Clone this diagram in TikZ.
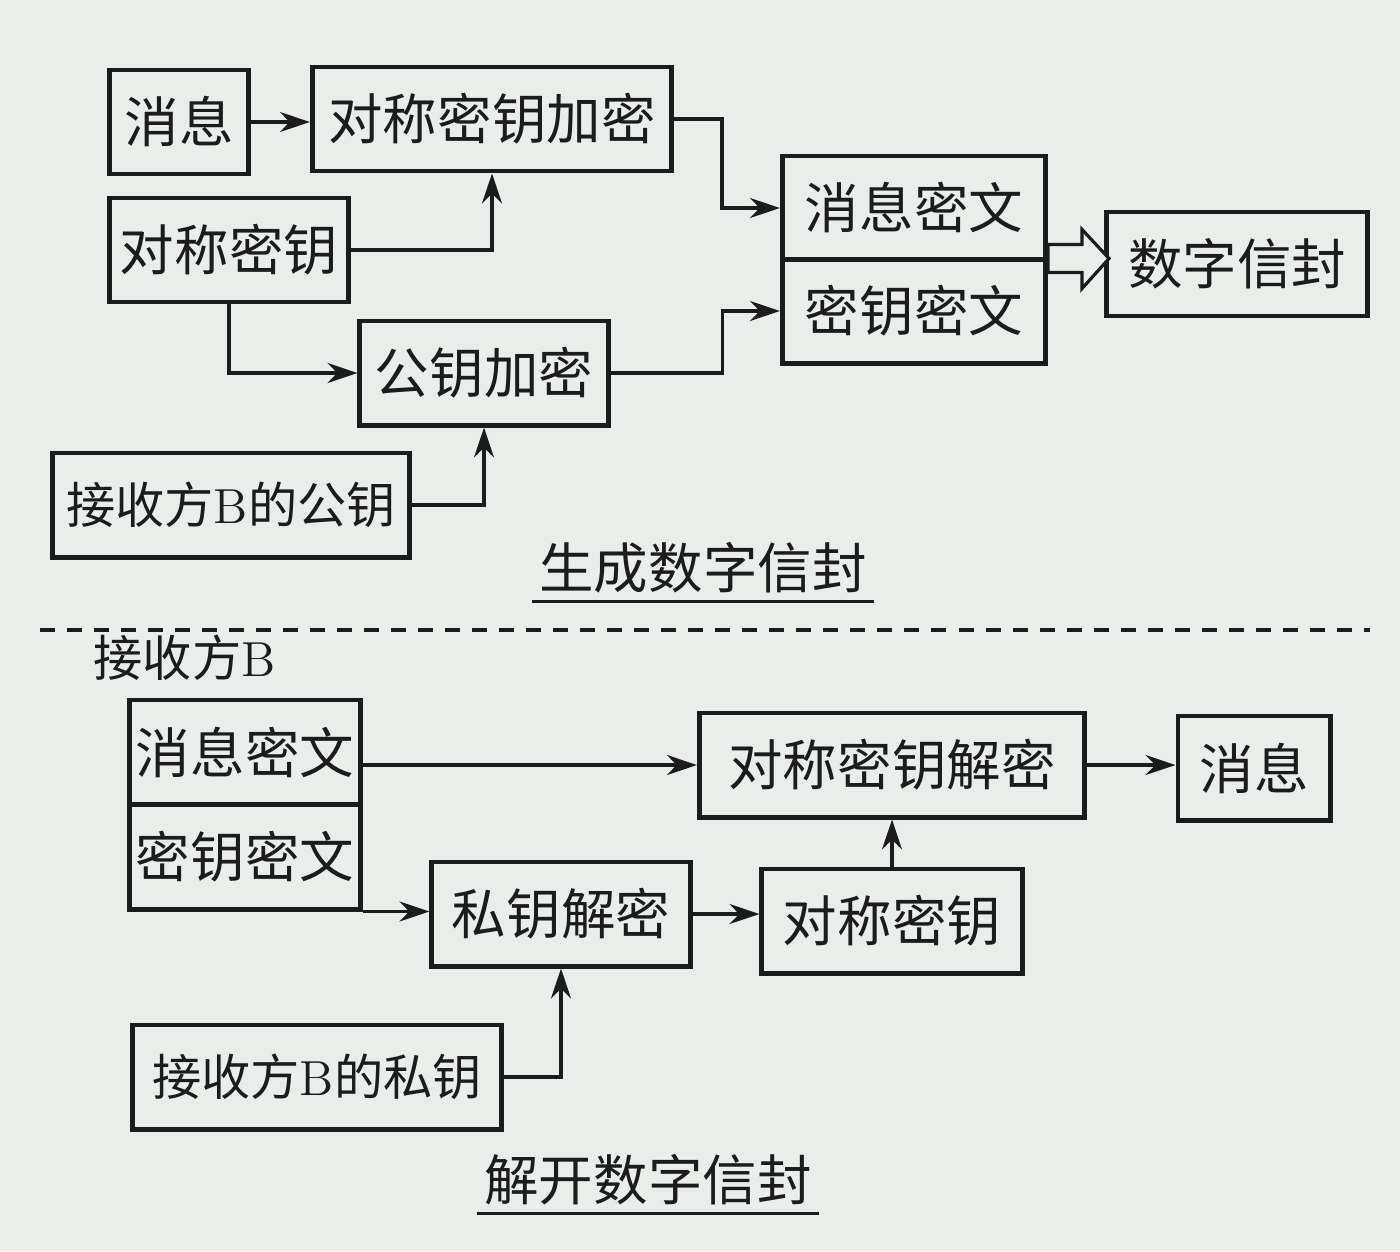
\documentclass[tikz,border=0pt]{standalone}
\usepackage{fontspec}
\newfontfamily\cjk{Noto Sans CJK SC}
\usetikzlibrary{arrows.meta, calc}
\definecolor{paper}{RGB}{233,238,235}
\definecolor{ink}{RGB}{28,28,28}
\tikzset{
  blk/.style={
    draw=ink, line width=1.4pt, text=ink,
    minimum height=1.04cm, inner sep=0pt,
    font=\cjk\fontsize{15.5}{18}\selectfont
  },
  small/.style={font=\cjk\fontsize{14}{17}\selectfont},
  arr/.style={draw=ink, line width=0.9pt, -{Stealth[length=3mm,width=2mm]}},
  caption/.style={text=ink, inner sep=2pt, font=\cjk\fontsize{15.5}{18}\selectfont},
  rule/.style={draw=ink, line width=0.9pt}
}

\begin{document}
\begin{tikzpicture}[x=0.01cm, y=-0.01cm]
\fill[paper] (0,0) rectangle (1400,1251);
\useasboundingbox (0,0) rectangle (1400,1251);
% Generate envelope
\node[blk, minimum width=1.38cm] (msgA)    at (179,122)  {消息};
\node[blk, minimum width=3.59cm] (symenc)  at (492,119)  {对称密钥加密};
\node[blk, minimum width=2.38cm] (symkeyA) at (229,250)  {对称密钥};
\node[blk, minimum width=2.48cm] (pubenc)  at (484,373)  {公钥加密};
\node[blk, small, minimum width=3.57cm] (pubkeyB) at (231,505) {接收方{\rmfamily B}的公钥};
\node[blk, minimum width=2.63cm] (msgctA)  at (914,208)  {消息密文};
\node[blk, minimum width=2.63cm] (keyctA)  at (914,311)  {密钥密文};
\node[blk, minimum width=2.61cm] (env)     at (1237,264) {数字信封};
\node[caption] (capA) at (703,568) {生成数字信封};
\draw[rule] (capA.south west) -- (capA.south east);
% Links
\draw[arr] (msgA.east) -- (msgA.east -| symenc.west);
\draw[arr] (symkeyA.east) -| (symenc.south);
\draw[arr] (symenc.east) -- ++(48,0) |- (msgctA.west);
\draw[arr] (symkeyA.south) |- (pubenc.west);
\draw[arr] (pubenc.east) -- ++(112,0) |- (keyctA.west);
\draw[arr] (pubkeyB.east) -| (pubenc.south);
\draw[rule, fill=paper] ($(keyctA.north east)+(0,-12)$) -- ++(34,0) -- ++(0,-15)
  -- ++(27,29) -- ++(-27,30) -- ++(0,-16) -- ++(-34,0) -- cycle;
% Separator
\draw[ink, line width=1pt, dash pattern=on 0.15cm off 0.12cm] (40,630) -- (1370,630);
\node[caption, small, anchor=west] (recv) at (86,658) {接收方{\rmfamily B}};
% Open envelope
\node[blk, minimum width=2.30cm] (msgctB)   at (245,752)  {消息密文};
\node[blk, minimum width=2.30cm] (keyctB)   at (245,857)  {密钥密文};
\node[blk, minimum width=3.85cm] (symdec)   at (892,765)  {对称密钥解密};
\node[blk, minimum width=1.52cm] (msgB)     at (1254,768) {消息};
\node[blk, minimum width=2.58cm] (privdec)  at (561,914)  {私钥解密};
\node[blk, minimum width=2.60cm] (symkeyB)  at (892,921)  {对称密钥};
\node[blk, small, minimum width=3.69cm] (privkeyB) at (317,1077) {接收方{\rmfamily B}的私钥};
\node[caption] (capB) at (648,1180) {解开数字信封};
\draw[rule] (capB.south west) -- (capB.south east);
% Links
\draw[arr] (symdec.west -| msgctB.east) -- (symdec.west);
\draw[arr] (keyctB.south east) -- (keyctB.south east -| privdec.west);
\draw[arr] (privdec.east) -- (privdec.east -| symkeyB.west);
\draw[arr] (symkeyB.north) -- (symdec.south);
\draw[arr] (privkeyB.east) -| (privdec.south);
\draw[arr] (symdec.east) -- (symdec.east -| msgB.west);
\end{tikzpicture}
\end{document}
